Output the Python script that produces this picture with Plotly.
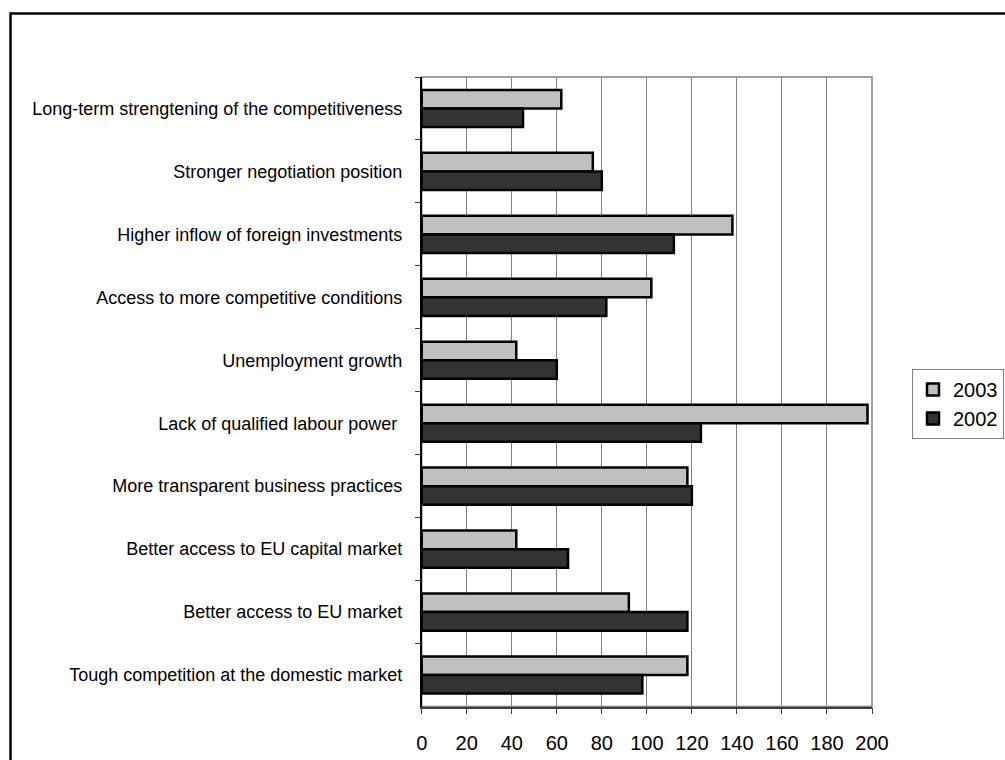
import plotly.graph_objects as go

categories = [
    "Long-term strengtening of the competitiveness",
    "Stronger negotiation position",
    "Higher inflow of foreign investments",
    "Access to more competitive conditions",
    "Unemployment growth",
    "Lack of qualified labour power ",
    "More transparent business practices",
    "Better access to EU capital market",
    "Better access to EU market",
    "Tough competition at the domestic market",
]
values_2003 = [62, 76, 138, 102, 42, 198, 118, 42, 92, 118]
values_2002 = [45, 80, 112, 82, 60, 124, 120, 65, 118, 98]
x_ticks = [0, 20, 40, 60, 80, 100, 120, 140, 160, 180, 200]

W, H = 1005, 760
px_l, px_r, px_t, px_b = 421.7, 872.0, 77.0, 706.5

fig = go.Figure()
fig.add_trace(go.Bar(
    y=categories, x=values_2003, name="2003", orientation="h",
    marker=dict(color="#C0C0C0", line=dict(color="#000000", width=2.5)),
))
fig.add_trace(go.Bar(
    y=categories, x=values_2002, name="2002", orientation="h",
    marker=dict(color="#333333", line=dict(color="#000000", width=2.5)),
))

fig.update_layout(
    width=W, height=H,
    margin=dict(l=0, r=0, t=0, b=0),
    paper_bgcolor="white", plot_bgcolor="white",
    barmode="group", bargap=0.41, bargroupgap=0,
    font=dict(family="Liberation Sans, Arial, sans-serif", color="#000000"),
    xaxis=dict(
        domain=[px_l / W, px_r / W],
        range=[0, 200], tickvals=x_ticks, ticktext=[str(v) for v in x_ticks],
        showgrid=True, gridcolor="#808080", gridwidth=1,
        showline=True, linecolor="#404040", linewidth=1.5,
        ticks="outside", ticklen=6, tickcolor="#404040", tickwidth=1,
        tickfont=dict(size=20), ticklabelstandoff=12,
        zeroline=False, automargin=False, fixedrange=True,
    ),
    yaxis=dict(
        domain=[(H - px_b) / H, (H - px_t) / H],
        autorange="reversed", type="category",
        showgrid=False, showline=True, linecolor="#000000", linewidth=1.5,
        ticks="outside", ticklen=5, tickcolor="#404040", tickson="boundaries",
        tickfont=dict(size=18), ticklabelstandoff=14,
        automargin=False, fixedrange=True,
    ),
    legend=dict(
        x=912 / W, y=(H - 369) / H, xanchor="left", yanchor="top",
        bordercolor="#808080", borderwidth=1, bgcolor="white",
        font=dict(size=20), itemwidth=30,
    ),
    shapes=[
        dict(type="rect", xref="paper", yref="paper",
             x0=px_l / W, x1=px_r / W, y0=(H - px_b) / H, y1=(H - px_t) / H,
             line=dict(color="#808080", width=1.5), layer="below"),
        dict(type="rect", xref="paper", yref="paper",
             x0=10.5 / W, x1=1.05, y0=-0.05, y1=(H - 13.5) / H,
             line=dict(color="#000000", width=2.5)),
    ],
)

fig.write_html("out.html")
